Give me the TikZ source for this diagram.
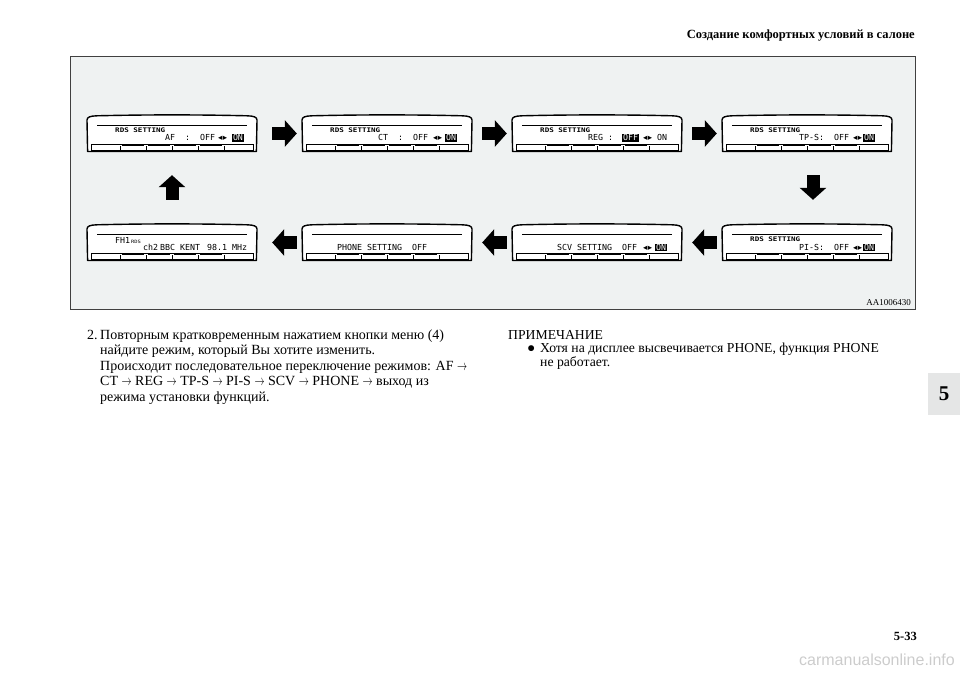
\documentclass[tikz,border=0pt]{standalone}
\usepackage{fontspec}
\setmainfont{Liberation Serif}
\newfontfamily\lcdfont{DejaVu Sans Mono}
\newfontfamily\lcdsmallfont[FakeStretch=1.2]{DejaVu Sans Mono}
\newfontfamily\trifont{DejaVu Sans}
\newfontfamily\markfont{Liberation Sans}
\usetikzlibrary{arrows.meta,calc}
\definecolor{panelbg}{RGB}{239,242,242}
\definecolor{tabgray}{RGB}{229,230,230}

% one LCD display, drawn in the current (shifted) scope
\newcommand{\lcdpanel}[1]{%
  \node[lcdbox] (#1) at (85,18.5) {};
  \draw[lcdedge] (0.6,36.5) -- (0,5) .. controls (0.3,2) and (3,1) .. (10,0.8)
    .. controls (60,-0.4) and (110,-0.4) .. (160,0.8)
    .. controls (167,1) and (169.7,2) .. (170,5) -- (169.4,36.5) -- cycle;
  \draw[lcdthin] (10,10.8) -- (160,10.8);
  \draw[lcdthin] (4,29.3) rectangle (166,35);
  \foreach \sx in {33,59,85,111,137}
    \draw[lcdthin] (\sx,31) -- (\sx,35);
  \foreach \sx in {33,59,85,111}
    \draw[lcdthick] (\sx+2,30.3) -- (\sx+24,30.3);
}
\newcommand{\lrmark}{{\trifont\fontsize{8.5}{9}\selectfont ◂\kern0.4pt▸}}
\newcommand{\tto}{\scalebox{0.7}[1]{$\rightarrow$}}

\begin{document}
\begin{tikzpicture}[
    x=1pt, y=-1pt,
    panelbox/.style={minimum width=845pt,minimum height=252pt,inner sep=0,
      fill=panelbg,draw=black!75,line width=1pt},
    lcdbox/.style={minimum width=170pt,minimum height=36pt,inner sep=0},
    lcdedge/.style={line width=1.4pt,fill=white,line join=round},
    lcdthin/.style={line width=0.7pt},
    lcdthick/.style={line width=1.6pt},
    lcdtxt/.style={font=\lcdfont\fontsize{8.3}{9}\selectfont,inner sep=0,anchor=base west},
    lcdsmall/.style={font=\lcdsmallfont\bfseries\fontsize{6.3}{7}\selectfont,inner sep=0,anchor=base west},
    hilite/.style={lcdtxt,fill=black,text=white,inner sep=0.8pt},
    flow/.style={line width=13pt,-{Triangle[length=12pt,width=26pt]}},
    body/.style={font=\fontsize{14}{15}\selectfont,inner sep=0,anchor=base west},
    note/.style={font=\fontsize{13.7}{15}\selectfont,inner sep=0,anchor=base west}
  ]
  \useasboundingbox (0,0) rectangle (960,679);

  %% Header and page furniture
  \node[font=\bfseries\fontsize{12.5}{14}\selectfont,anchor=base east,inner sep=0] (head) at (915,39)
    {Создание комфортных условий в салоне};
  \node[fill=tabgray,minimum width=32pt,minimum height=42pt,anchor=north west,inner sep=0,
    font=\bfseries\fontsize{21}{22}\selectfont] (tab) at (928,373) {5};
  \node[font=\bfseries\fontsize{12.5}{14}\selectfont,anchor=base east,inner sep=0] (pageno) at (917,640) {5-33};
  \node[font=\markfont\fontsize{16}{18}\selectfont,text=gray!40,anchor=east,inner sep=0] (wmark) at (955,660)
    {carmanualsonline.info};

  %% Figure panel
  \node[panelbox] (panel) at (492.5,183) {};
  \node[font=\fontsize{9}{10}\selectfont,anchor=base east,inner sep=0] (figno) at (911,305) {AA1006430};

  %% Top row
  \begin{scope}[shift={(87,115)}]
    \lcdpanel{afdisp}
    \node[lcdsmall] (af0) at (28,17.6) {RDS~SETTING};
    \node[lcdtxt] (af1) at (78,26) {AF~~:~~OFF};
    \node[lcdtxt] (af2) at (131,26) {\lrmark};
    \node[hilite] (af3) at (145,26) {ON};
  \end{scope}
  \begin{scope}[shift={(302,115)}]
    \lcdpanel{ctdisp}
    \node[lcdsmall] (ct0) at (28,17.6) {RDS~SETTING};
    \node[lcdtxt] (ct1) at (76,26) {CT~~:~~OFF};
    \node[lcdtxt] (ct2) at (131,26) {\lrmark};
    \node[hilite] (ct3) at (143,26) {ON};
  \end{scope}
  \begin{scope}[shift={(512,115)}]
    \lcdpanel{regdisp}
    \node[lcdsmall] (reg0) at (28,17.6) {RDS~SETTING};
    \node[lcdtxt] (reg1) at (76,26) {REG~:};
    \node[hilite] (reg2) at (110,26) {OFF};
    \node[lcdtxt] (reg3) at (131,26) {\lrmark};
    \node[lcdtxt] (reg4) at (145,26) {ON};
  \end{scope}
  \begin{scope}[shift={(722,115)}]
    \lcdpanel{tpdisp}
    \node[lcdsmall] (tp0) at (28,17.6) {RDS~SETTING};
    \node[lcdtxt] (tp1) at (77,26) {TP-S:~~OFF};
    \node[lcdtxt] (tp2) at (131,26) {\lrmark};
    \node[hilite] (tp3) at (141,26) {ON};
  \end{scope}

  %% Bottom row
  \begin{scope}[shift={(87,224)}]
    \lcdpanel{fhdisp}
    \node[lcdtxt] (fh0) at (28,19) {FH1};
    \node[lcdsmall,font=\lcdsmallfont\fontsize{4.5}{5}\selectfont] (fh1) at (44,19) {RDS};
    \node[lcdtxt] (fh2) at (56,26.5) {ch2};
    \node[lcdtxt] (fh3) at (73,26.5) {BBC~KENT};
    \node[lcdtxt] (fh4) at (120,26.5) {98.1~MHz};
  \end{scope}
  \begin{scope}[shift={(302,224)}]
    \lcdpanel{phdisp}
    \node[lcdtxt] (ph1) at (35,26.5) {PHONE~SETTING~~OFF};
  \end{scope}
  \begin{scope}[shift={(512,224)}]
    \lcdpanel{scvdisp}
    \node[lcdtxt] (scv1) at (45,26.5) {SCV~SETTING~~OFF};
    \node[lcdtxt] (scv2) at (131,26.5) {\lrmark};
    \node[hilite] (scv3) at (143,26.5) {ON};
  \end{scope}
  \begin{scope}[shift={(722,224)}]
    \lcdpanel{pidisp}
    \node[lcdsmall] (pi0) at (28,17.6) {RDS~SETTING};
    \node[lcdtxt] (pi1) at (77,26.5) {PI-S:~~OFF};
    \node[lcdtxt] (pi2) at (131,26.5) {\lrmark};
    \node[hilite] (pi3) at (141,26.5) {ON};
  \end{scope}

  %% Block arrows between displays
  \draw[flow,shorten <=15pt,shorten >=5pt] (afdisp) -- (ctdisp);
  \draw[flow,shorten <=10pt,shorten >=5pt] (ctdisp) -- (regdisp);
  \draw[flow,shorten <=10pt,shorten >=5pt] (regdisp) -- (tpdisp);
  \draw[flow,shorten <=23.5pt,shorten >=24.5pt] ([xshift=6pt]tpdisp.south) -- ([xshift=6pt]pidisp.north);
  \draw[flow,shorten <=5pt,shorten >=10pt] (pidisp) -- (scvdisp);
  \draw[flow,shorten <=5pt,shorten >=10pt] (scvdisp) -- (phdisp);
  \draw[flow,shorten <=5pt,shorten >=15pt] (phdisp) -- (fhdisp);
  \draw[flow,shorten <=24.5pt,shorten >=23.5pt] (fhdisp) -- (afdisp);

  %% Text below the figure
  \node[body] (num) at (87,339) {2.};
  \node[body] (p1) at (100,339) {Повторным кратковременным нажатием кнопки меню (4)};
  \node[body] (p2) at (100,354.5) {найдите режим, который Вы хотите изменить.};
  \node[body] (p3) at (100,370) {Происходит последовательное переключение режимов: AF \tto};
  \node[body] (p4) at (100,385.5) {CT \tto{} REG \tto{} TP-S \tto{} PI-S \tto{} SCV \tto{} PHONE \tto{} выход из};
  \node[body] (p5) at (100,401) {режима установки функций.};

  \node[note] (notehead) at (508,339) {ПРИМЕЧАНИЕ};
  \node[note] (dot) at (527,352.5) {●};
  \node[note] (n1) at (540,352.5) {Хотя на дисплее высвечивается PHONE, функция PHONE};
  \node[note] (n2) at (540,366) {не работает.};
\end{tikzpicture}
\end{document}
